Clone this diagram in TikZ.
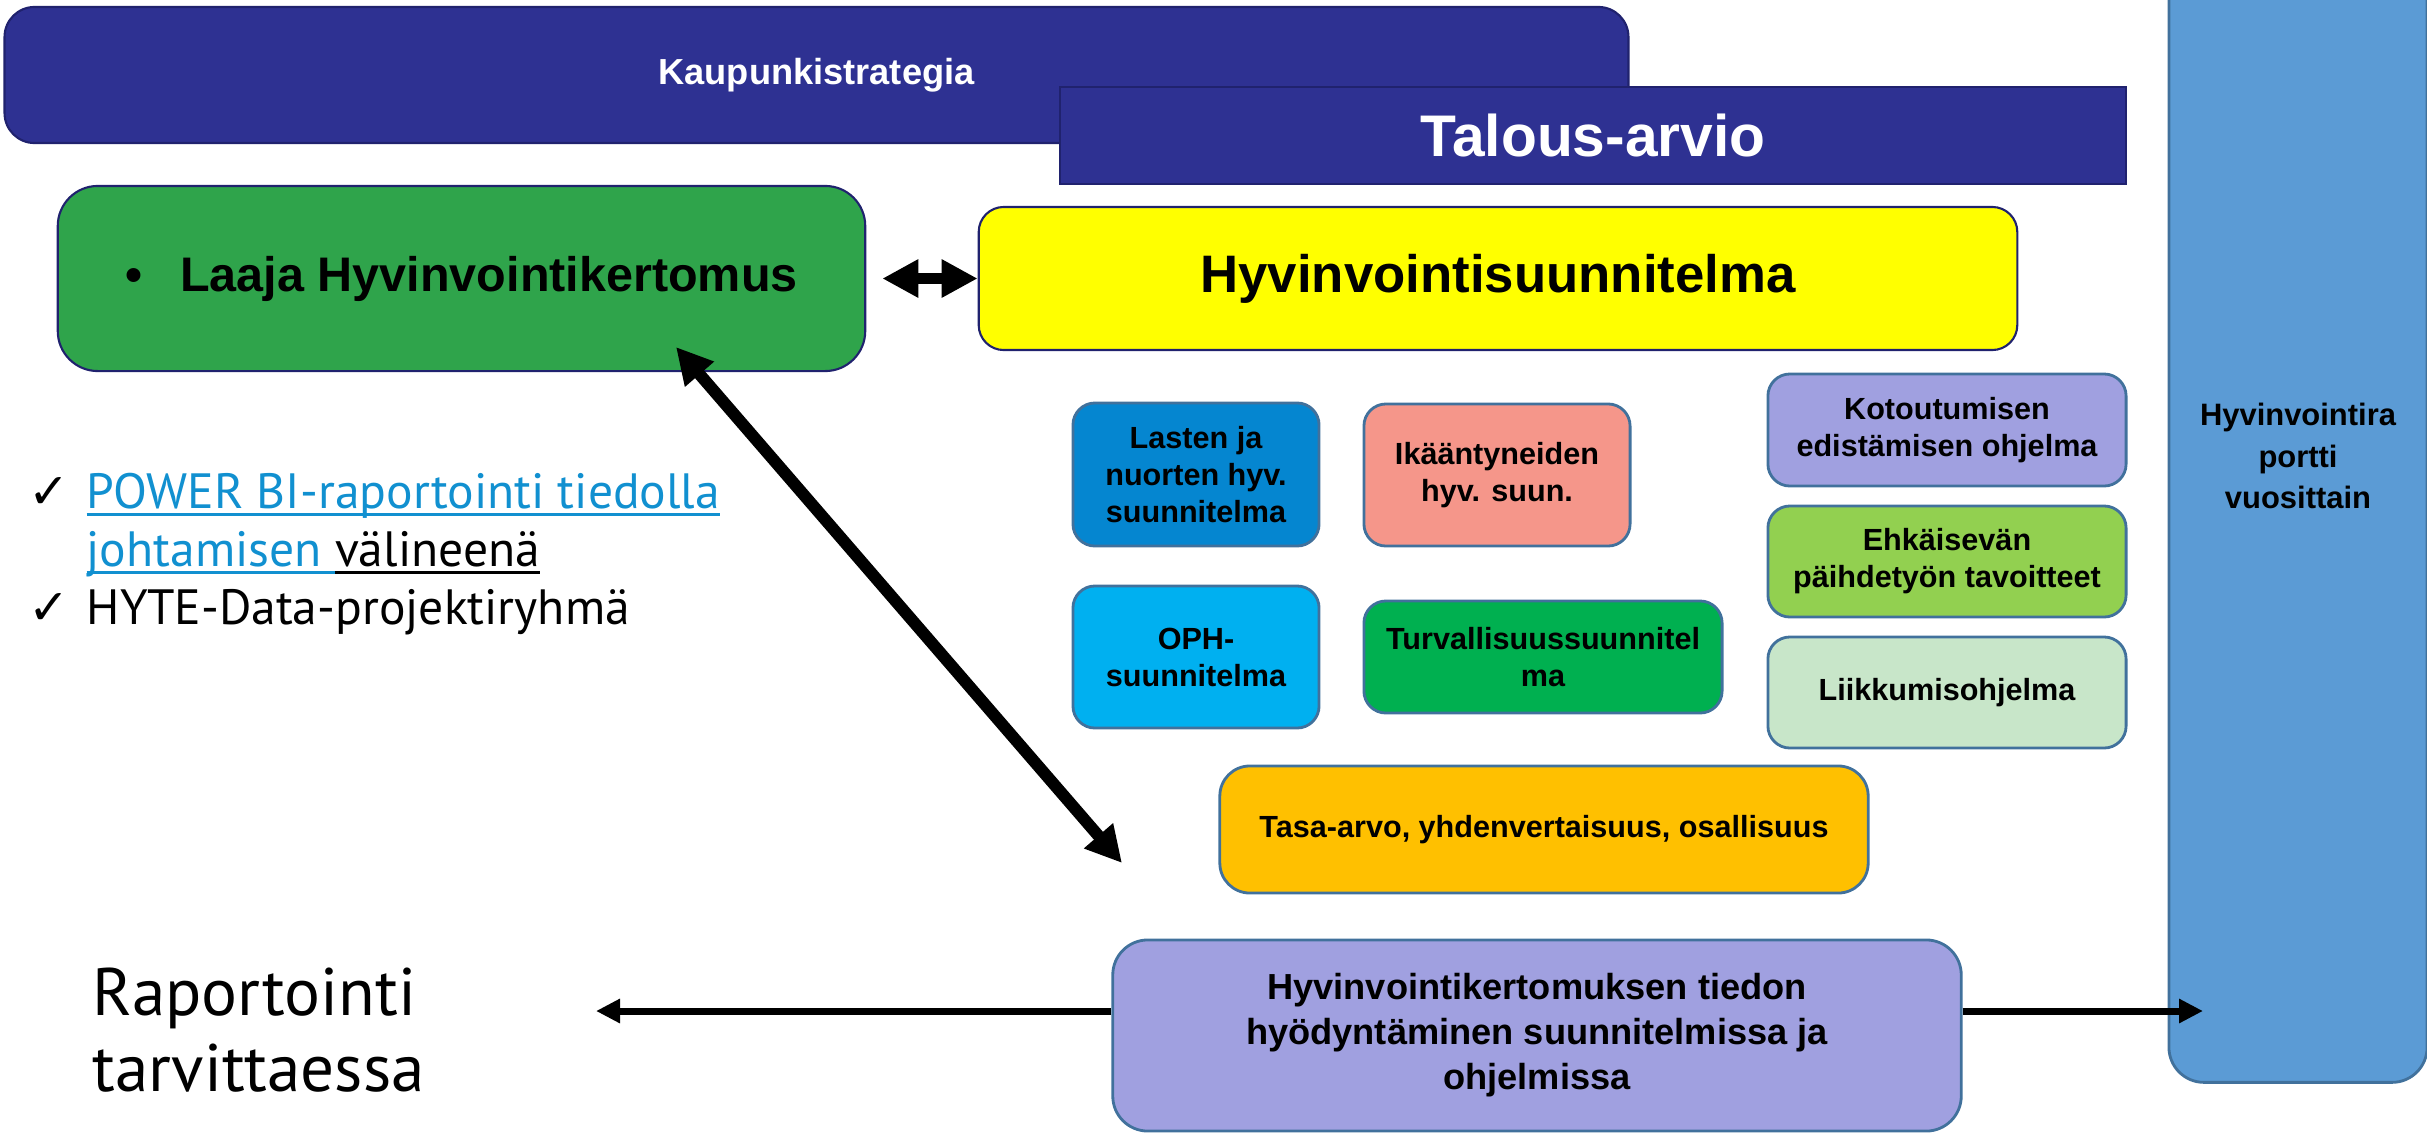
\documentclass[tikz,border=0pt]{standalone}
\usepackage{fontspec}
\setmainfont{Liberation Sans}
\newfontfamily\listfont{PT Sans}
\newfontfamily\symfont{DejaVu Sans}
\usetikzlibrary{arrows.meta}

\definecolor{navy}{RGB}{46,49,146}
\definecolor{navyline}{RGB}{32,34,110}
\definecolor{kgreen}{RGB}{47,164,75}
\definecolor{panelblue}{RGB}{91,155,213}
\definecolor{steel}{RGB}{65,113,156}
\definecolor{lastenblue}{RGB}{5,134,208}
\definecolor{salmon}{RGB}{245,150,138}
\definecolor{lavender}{RGB}{160,160,224}
\definecolor{limegreen}{RGB}{146,208,80}
\definecolor{skyblue}{RGB}{0,176,240}
\definecolor{safegreen}{RGB}{0,176,80}
\definecolor{palegreen}{RGB}{200,230,201}
\definecolor{amber}{RGB}{255,192,0}
\definecolor{linkblue}{RGB}{17,144,208}
\definecolor{pureyellow}{RGB}{255,255,0}

\newcommand{\fsz}[2]{\fontsize{#1}{#2}\selectfont}
\newcommand{\checkmk}{\makebox[0.58cm][l]{\symfont\fsz{14pt}{14pt}✓}}
\newcommand{\uln}[1]{\setbox0\hbox{#1}\rlap{\rule[-0.08cm]{\wd0}{0.8pt}}\box0}

\begin{document}
\begin{tikzpicture}[x=0.01cm, y=-0.01cm,
    topbox/.style={draw=navyline, line width=0.6pt, fill=navy, text=white, inner sep=0pt},
    bigbox/.style={draw=navyline, line width=0.6pt, inner sep=0pt},
    planbox/.style={draw=steel, line width=0.8pt, rounded corners=0.22cm, align=center, inner sep=0pt,
        font=\bfseries\fsz{8.7pt}{10.5pt}},
    thickarrow/.style={line width=3.4pt, {Triangle[length=0.36cm,width=0.36cm]}-{Triangle[length=0.36cm,width=0.36cm]}},
    thinarrow/.style={line width=2pt, -{Triangle[length=0.24cm,width=0.23cm]}}]
    \useasboundingbox (0,0) rectangle (2427,1133);

    % strategia ja talousarvio
    \node[topbox, rounded corners=0.3cm, minimum width=16.23cm, minimum height=1.36cm,
        font=\bfseries\fsz{10.3pt}{12pt}] (strat) at (816.5,75) {Kaupunkistrategia};
    \node[topbox, minimum width=10.66cm, minimum height=0.97cm,
        font=\bfseries\fsz{16.7pt}{20pt}] (talous) at (1593,135.5) {Talous-arvio};

    % kertomus ja suunnitelma
    \node[bigbox, fill=kgreen, rounded corners=0.4cm, minimum width=8.07cm, minimum height=1.85cm,
        font=\bfseries\fsz{13.8pt}{16pt}] (laaja) at (461.5,278.5) {\textbullet\hspace{0.38cm}Laaja Hyvinvointikertomus};
    \node[bigbox, fill=pureyellow, rounded corners=0.25cm, minimum width=10.38cm, minimum height=1.43cm,
        font=\bfseries\fsz{15pt}{18pt}] (hsuun) at (1498,278.5) {Hyvinvointisuunnitelma};

    % ohjelmat
    \node[planbox, fill=lastenblue, minimum width=2.46cm, minimum height=1.43cm] (lasten) at (1196,474.5) {Lasten ja\\nuorten hyv.\\suunnitelma};
    \node[planbox, fill=salmon, minimum width=2.66cm, minimum height=1.42cm] (ikaant) at (1497,475) {Ikääntyneiden\\hyv. suun.};
    \node[planbox, fill=lavender, minimum width=3.58cm, minimum height=1.12cm] (koto) at (1947,430) {Kotoutumisen\\edistämisen ohjelma};
    \node[planbox, fill=limegreen, minimum width=3.58cm, minimum height=1.11cm] (ehk) at (1947,561.5) {Ehkäisevän\\päihdetyön tavoitteet};
    \node[planbox, fill=skyblue, minimum width=2.46cm, minimum height=1.42cm] (oph) at (1196,657) {OPH-\\suunnitelma};
    \node[planbox, fill=safegreen, minimum width=3.58cm, minimum height=1.12cm] (turva) at (1543,657) {Turvallisuussuunnitel\\ma};
    \node[planbox, fill=palegreen, minimum width=3.58cm, minimum height=1.11cm] (liikk) at (1947,692.5) {Liikkumisohjelma};
    \node[planbox, fill=amber, rounded corners=0.3cm, minimum width=6.48cm, minimum height=1.27cm] (tasa) at (1544,829.5) {Tasa-arvo, yhdenvertaisuus, osallisuus};
    \node[planbox, fill=lavender, rounded corners=0.35cm, minimum width=8.48cm, minimum height=1.91cm,
        font=\bfseries\fsz{10.3pt}{12.8pt}] (hyod) at (1537,1035.5) {Hyvinvointikertomuksen tiedon\\hyödyntäminen suunnitelmissa ja\\ohjelmissa};

    % raportti oikealla
    \node[draw=steel, line width=0.8pt, fill=panelblue, rounded corners=0.35cm, minimum width=2.58cm, minimum height=12.52cm,
        align=center, inner sep=0pt, font=\bfseries\fsz{8.8pt}{11.7pt}] (portti) at (2298,456) {Hyvinvointira\\portti\\vuosittain};

    % tekstit vasemmalla
    \node[font=\listfont\fsz{14.1pt}{16.5pt}, align=left, anchor=north west, inner sep=0pt] (checks) at (28,472)
        {\checkmk{\color{linkblue}\uln{POWER BI-raportointi tiedolla}}\\
         \hspace*{0.58cm}{\color{linkblue}\uln{johtamisen\ }}\uln{välineenä}\\
         \checkmk HYTE-Data-projektiryhmä};
    \node[font=\listfont\fsz{19.1pt}{21.6pt}, align=left, anchor=west, inner sep=0pt] (raport) at (92,1030) {Raportointi\\tarvittaessa};

    % nuolet
    \coordinate (diagtop) at (676,347);
    \coordinate (diagend) at (1122,863);
    \coordinate (leftend) at (596,1011);
    \coordinate (rightend) at (2203,1011);
    \draw[thickarrow, shorten <=0.16cm] (laaja) -- (hsuun);
    \draw[thickarrow] (diagtop) -- (diagend);
    \draw[thinarrow] (hyod.west |- leftend) -- (leftend);
    \draw[thinarrow] (hyod.east |- rightend) -- (rightend);
\end{tikzpicture}
\end{document}
